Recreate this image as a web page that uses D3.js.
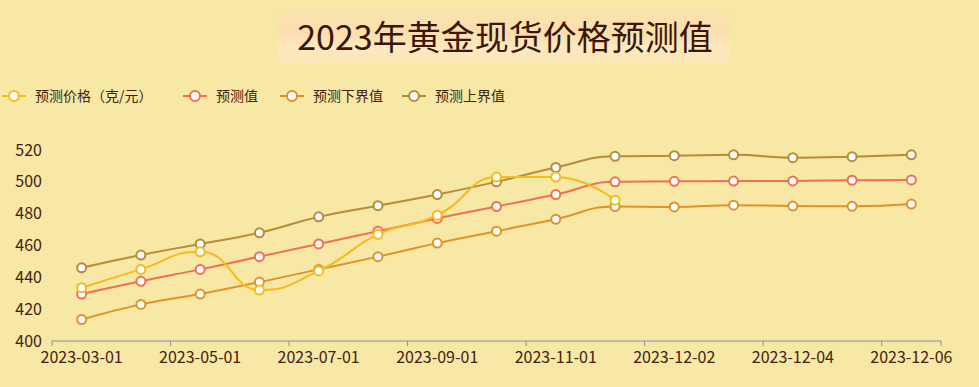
<!DOCTYPE html>
<html>
<head>
<meta charset="utf-8">
<script src="https://cdn.jsdelivr.net/npm/d3@7"></script>
<style>
  html, body { margin: 0; padding: 0; background: #f7e8a6; }
  svg { display: block; font-family: "Noto Sans CJK SC", "Noto Sans", sans-serif; }
</style>
</head>
<body>
<div id="chart"></div>
<script>
const categories = ['2023-03-01', '2023-04-01', '2023-05-01', '2023-06-01', '2023-07-01',
  '2023-08-01', '2023-09-01', '2023-10-01', '2023-11-01', '2023-12-01',
  '2023-12-02', '2023-12-03', '2023-12-04', '2023-12-05', '2023-12-06'];

const price = [433.5, 445, 456, 432, 444, 467, 479, 503, 503, 488.5];
const predicted = [429.5, 437.5, 445, 453, 461, 469, 477, 484.5, 492, 500, 500.3, 500.5, 500.6, 501, 501.2];
const lower = [413.5, 423, 429.5, 437, 445, 453, 461.5, 469, 476.5, 484.5, 484.2, 485.3, 484.8, 484.6, 486];
const upper = [446, 454, 461, 468, 478, 485, 492, 500, 509, 516, 516.4, 517, 515.2, 515.8, 517];

const yTicks = [400, 420, 440, 460, 480, 500, 520];

const seriesList = [
  { name: '预测价格（克/元）', values: price, color: '#f5bb1c' },
  { name: '预测值', values: predicted, color: '#f2704f' },
  { name: '预测下界值', values: lower, color: '#e0922a' },
  { name: '预测上界值', values: upper, color: '#b88a3c' }
];

const W = 979, H = 387;
const margin = { top: 150, right: 38, bottom: 46, left: 52 };

const svg = d3.select('#chart').append('svg')
  .attr('width', W)
  .attr('height', H);

svg.append('rect').attr('width', W).attr('height', H).attr('fill', '#f7e8a6');

// title box
const defs = svg.append('defs');
const grad = defs.append('linearGradient').attr('id', 'titleBg')
  .attr('x1', '0').attr('y1', '0').attr('x2', '0').attr('y2', '1');
grad.append('stop').attr('offset', '0%').attr('stop-color', '#f9e3ac');
grad.append('stop').attr('offset', '45%').attr('stop-color', '#fbdfae');
grad.append('stop').attr('offset', '70%').attr('stop-color', '#fce9bf');
grad.append('stop').attr('offset', '100%').attr('stop-color', '#fae7b4');

svg.append('rect')
  .attr('x', 278).attr('y', 11)
  .attr('width', 452).attr('height', 52)
  .attr('fill', 'url(#titleBg)');

svg.append('text')
  .attr('x', 505).attr('y', 50)
  .attr('text-anchor', 'middle')
  .attr('font-size', 34)
  .attr('fill', '#3c1608')
  .text('2023年黄金现货价格预测值');

// scales
const x = d3.scaleBand()
  .domain(categories)
  .range([margin.left, W - margin.right]);

const y = d3.scaleLinear()
  .domain([400, 520])
  .range([H - margin.bottom, margin.top]);

// echarts-style smooth path (smooth 0.5 with constraint)
function smoothPath(pts, smooth) {
  let d = '';
  let prevX, prevY, cpx0, cpy0;
  for (let i = 0; i < pts.length; i++) {
    const [px, py] = pts[i];
    if (i === 0) {
      d += `M${px},${py}`;
      cpx0 = px; cpy0 = py;
    } else {
      let cpx1, cpy1, nextCpx0, nextCpy0;
      if (i === pts.length - 1) {
        cpx1 = px; cpy1 = py;
      } else {
        const [nx, ny] = pts[i + 1];
        let vx = nx - prevX, vy = ny - prevY;
        const dx0 = px - prevX, dx1 = nx - px;
        const dy0 = py - prevY, dy1 = ny - py;
        const lenPrev = Math.sqrt(dx0 * dx0 + dy0 * dy0);
        const lenNext = Math.sqrt(dx1 * dx1 + dy1 * dy1);
        const ratio = lenNext / (lenNext + lenPrev);
        nextCpx0 = px + vx * smooth * ratio;
        nextCpy0 = py + vy * smooth * ratio;
        nextCpx0 = Math.min(nextCpx0, Math.max(nx, px));
        nextCpy0 = Math.min(nextCpy0, Math.max(ny, py));
        nextCpx0 = Math.max(nextCpx0, Math.min(nx, px));
        nextCpy0 = Math.max(nextCpy0, Math.min(ny, py));
        vx = nextCpx0 - px; vy = nextCpy0 - py;
        cpx1 = px - vx * dx0 / dx1;
        cpy1 = py - vy * dx0 / dx1;
        cpx1 = Math.min(cpx1, Math.max(prevX, px));
        cpy1 = Math.min(cpy1, Math.max(prevY, py));
        cpx1 = Math.max(cpx1, Math.min(prevX, px));
        cpy1 = Math.max(cpy1, Math.min(prevY, py));
        vx = px - cpx1; vy = py - cpy1;
        nextCpx0 = px + vx * dx1 / dx0;
        nextCpy0 = py + vy * dx1 / dx0;
      }
      d += `C${cpx0},${cpy0},${cpx1},${cpy1},${px},${py}`;
      cpx0 = nextCpx0; cpy0 = nextCpy0;
    }
    prevX = px; prevY = py;
  }
  return d;
}

// y axis labels (no line)
const yAxis = svg.append('g')
  .attr('transform', `translate(${margin.left},0)`)
  .call(d3.axisLeft(y).tickValues(yTicks).tickSize(0).tickPadding(10));
yAxis.select('.domain').remove();
yAxis.selectAll('text')
  .attr('font-size', 16)
  .attr('fill', '#45200e')
  .attr('font-family', '"Noto Sans CJK SC", sans-serif');

// x axis
const xAxisG = svg.append('g')
  .attr('transform', `translate(0,${H - margin.bottom})`);
xAxisG.append('line')
  .attr('x1', margin.left).attr('x2', W - margin.right)
  .attr('stroke', '#8c8f96').attr('stroke-width', 1);
const tickIdx = categories.map((c, i) => i).filter(i => i % 2 === 0);
xAxisG.selectAll('.tk')
  .data(tickIdx.map(i => x(categories[i])).concat([x.range()[1]]))
  .join('line')
  .attr('x1', d => d).attr('x2', d => d)
  .attr('y1', 0).attr('y2', 5)
  .attr('stroke', '#8c8f96');
xAxisG.selectAll('.lb')
  .data(tickIdx)
  .join('text')
  .attr('x', i => x(categories[i]) + x.bandwidth() / 2)
  .attr('y', 22)
  .attr('text-anchor', 'middle')
  .attr('font-size', 16)
  .attr('fill', '#45200e')
  .text(i => categories[i]);

// series, draw in reverse so first series on top
const plot = svg.append('g');
seriesList.slice().reverse().forEach(s => {
  const pts = s.values.map((v, i) => [x(categories[i]) + x.bandwidth() / 2, y(v)]);
  plot.append('path')
    .attr('d', smoothPath(pts, 0.5))
    .attr('fill', 'none')
    .attr('stroke', s.color)
    .attr('stroke-width', 2);
  plot.selectAll(null)
    .data(pts)
    .join('circle')
    .attr('cx', d => d[0]).attr('cy', d => d[1])
    .attr('r', 4.5)
    .attr('fill', '#fff')
    .attr('stroke', s.color)
    .attr('stroke-width', 2);
});

// legend
const legendX = [2, 183, 280, 402];
const legend = svg.append('g').attr('transform', 'translate(0,96)');
seriesList.forEach((s, i) => {
  const g = legend.append('g').attr('transform', `translate(${legendX[i]},0)`);
  g.append('line').attr('x1', 0).attr('x2', 24).attr('y1', 0).attr('y2', 0)
    .attr('stroke', s.color).attr('stroke-width', 2);
  g.append('circle').attr('cx', 12).attr('cy', 0).attr('r', 5)
    .attr('fill', '#fff').attr('stroke', s.color).attr('stroke-width', 2);
  g.append('text').attr('x', 33).attr('y', 5)
    .attr('font-size', 14).attr('fill', '#45200e')
    .text(s.name);
});
</script>
</body>
</html>
